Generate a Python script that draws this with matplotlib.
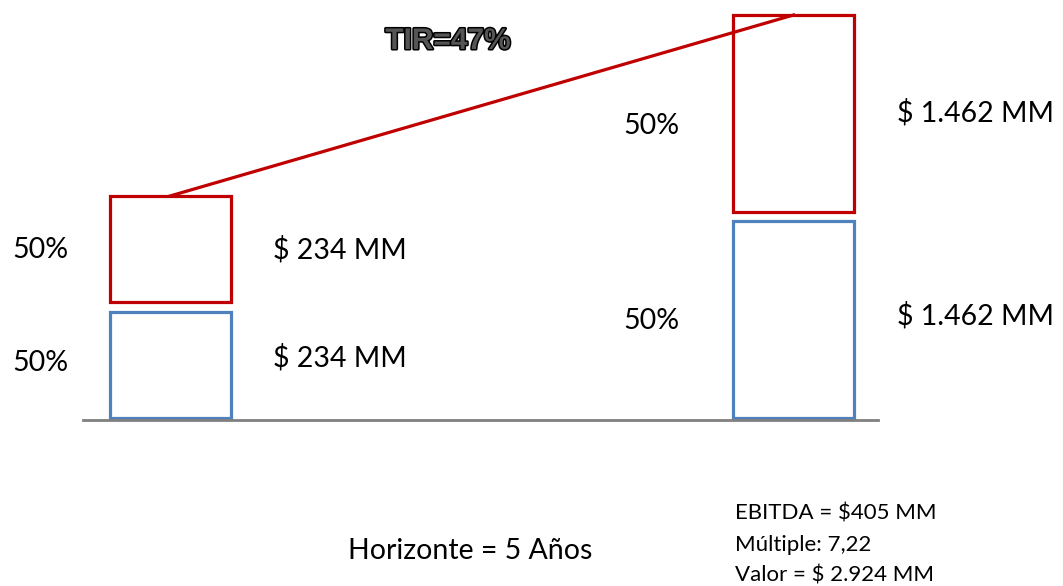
import matplotlib.pyplot as plt
import matplotlib.patheffects as pe

# diagram data
periods = ['Hoy', 'Año 5']
x_pos = [170, 793.5]
bar_w = 121
blue_h = [106, 197]     # drawn box heights (not to scale with the values)
red_h = [106, 197]
gap = [10, 9]
blue_labels = ['$ 234 MM', '$ 1.462 MM']
red_labels = ['$ 234 MM', '$ 1.462 MM']
share_labels = ['50%', '50%']
tir_text = 'TIR=47%'
horizon_text = 'Horizonte = 5 Años'
notes = ['EBITDA = $405 MM', 'Múltiple: 7,22', 'Valor = $ 2.924 MM']

plt.rcParams['font.family'] = ['Lato', 'DejaVu Sans']

fig = plt.figure(figsize=(10.63, 5.86), dpi=100)
ax = fig.add_axes([0, 0, 1, 1])
ax.set_xlim(0, 1063)
ax.set_ylim(0, 586)
ax.axis('off')

base = 168
blue_col = '#4f81bd'
red_col = '#c00000'

ax.bar(x_pos, blue_h, width=bar_w, bottom=base, fill=False,
       edgecolor=blue_col, linewidth=2.3)
red_bottom = [base + b + g for b, g in zip(blue_h, gap)]
ax.bar(x_pos, red_h, width=bar_w, bottom=red_bottom, fill=False,
       edgecolor=red_col, linewidth=2.3)

# baseline
ax.plot([83, 878], [base - 2, base - 2], color='#808080', lw=2)

# line joining red tops
tops = [b + h for b, h in zip(red_bottom, red_h)]
ax.plot(x_pos, tops, color=red_col, lw=2.3)

fs = 20.5
# left labels
ax.text(40, base + blue_h[0] / 2 + 2, share_labels[0], fontsize=fs, ha='center', va='center')
ax.text(40, red_bottom[0] + red_h[0] / 2 - 1, share_labels[1], fontsize=fs, ha='center', va='center')
ax.text(273, base + blue_h[0] / 2 + 7, blue_labels[0], fontsize=fs, ha='left', va='center')
ax.text(273, red_bottom[0] + red_h[0] / 2 - 1, red_labels[0], fontsize=fs, ha='left', va='center')
# right labels
ax.text(651, 586 - 321, share_labels[0], fontsize=fs, ha='center', va='center')
ax.text(651, 586 - 126, share_labels[1], fontsize=fs, ha='center', va='center')
ax.text(897, 586 - 316, blue_labels[1], fontsize=fs, ha='left', va='center')
ax.text(897, 586 - 113, red_labels[1], fontsize=fs, ha='left', va='center')

ax.text(448, 586 - 41, tir_text, fontsize=21.5, fontweight='bold', ha='center', va='center',
        family=['Liberation Sans', 'DejaVu Sans'], color='#555555',
        path_effects=[pe.withStroke(linewidth=2.2, foreground='black')])

ax.text(470, 586 - 551, horizon_text, fontsize=fs, ha='center', va='center')
for i, t in enumerate(notes):
    ax.text(735, 586 - 514 - i * 31, t, fontsize=16, ha='left', va='center')

fig.savefig('out.png', dpi=100)
